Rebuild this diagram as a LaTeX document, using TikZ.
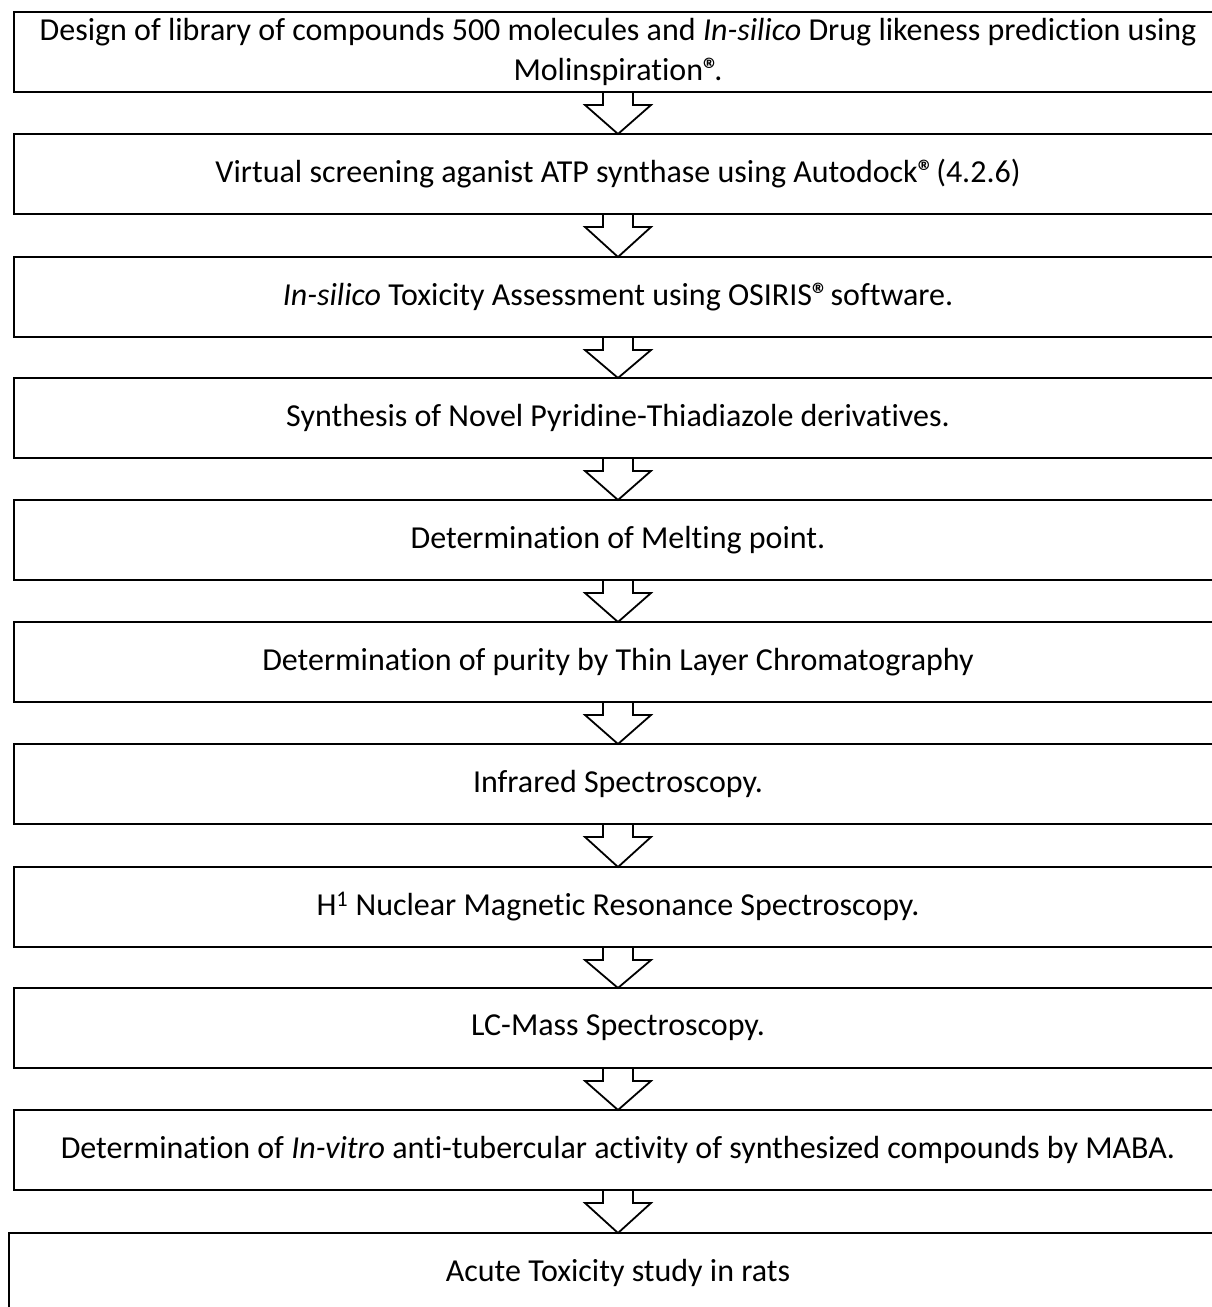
\documentclass[tikz,border=0pt]{standalone}
\usepackage{fontspec}
\setmainfont{Carlito}[Ligatures=NoCommon]
\usetikzlibrary{calc}
\newcommand{\regmark}{\textbf{®}\kern-5pt}
\begin{document}
\begin{tikzpicture}[x=1pt,y=-1pt,
  stepbox/.style={draw, line width=1.8pt, minimum width=1208pt, minimum height=80pt,
    inner sep=0pt, outer sep=0pt, align=center, anchor=north,
    font=\fontsize{32}{40}\selectfont},
  flowarrow/.style={line width=1.8pt, line join=miter}]
\useasboundingbox (0,0) rectangle (1212,1307);
\clip (0,0) rectangle (1212,1307);
\node[stepbox] (b1) at (618,12) {Design of library of compounds 500 molecules and \textit{In-silico} Drug likeness prediction using\\Molinspiration\regmark.};
\node[stepbox] (b2) at (618,134) {Virtual screening aganist ATP synthase using Autodock\regmark\ (4.2.6)};
\node[stepbox] (b3) at (618,257) {\textit{In-silico} Toxicity Assessment using OSIRIS\regmark\ software.};
\node[stepbox] (b4) at (618,378) {Synthesis of Novel Pyridine-Thiadiazole derivatives.};
\node[stepbox] (b5) at (618,500) {Determination of Melting point.};
\node[stepbox] (b6) at (618,622) {Determination of purity by Thin Layer Chromatography};
\node[stepbox] (b7) at (618,744) {Infrared Spectroscopy.};
\node[stepbox] (b8) at (618,867) {H\textsuperscript{1} Nuclear Magnetic Resonance Spectroscopy.};
\node[stepbox] (b9) at (618,988) {LC-Mass Spectroscopy.};
\node[stepbox] (b10) at (618,1110) {Determination of \textit{In-vitro} anti-tubercular activity of synthesized compounds by MABA.};
\node[stepbox, minimum width=1218pt] (b11) at (618,1233) {Acute Toxicity study in rats};
\foreach \a/\b in {b1/b2,b2/b3,b3/b4,b4/b5,b5/b6,b6/b7,b7/b8,b8/b9,b9/b10,b10/b11}{
  \draw[flowarrow] ($(\a.south)+(-15,0)$) -- ++(0,13) -- ++(-18,0) -- (\b.north)
    -- ($(\a.south)+(33,13)$) -- ++(-18,0) -- ++(0,-13);
}
\end{tikzpicture}
\end{document}
